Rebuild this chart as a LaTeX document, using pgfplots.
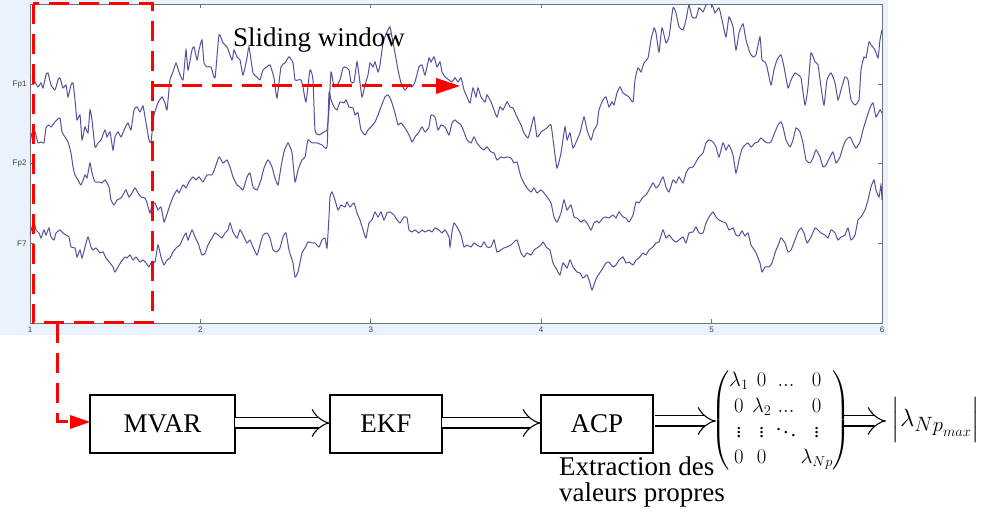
\documentclass[border=0pt]{standalone}
\usepackage{amsmath}
\usepackage{fontspec}
\setmainfont{Liberation Serif}
\newfontfamily\ticksans{Liberation Sans}
\usepackage{pgfplots}
\pgfplotsset{compat=1.18}
\usepackage{pgfplotstable}
\usetikzlibrary{arrows.meta}

\definecolor{eeg}{RGB}{82,82,158}
\definecolor{figbg}{RGB}{234,242,251}
\definecolor{wred}{RGB}{255,0,0}

% traces, in image pixels (px, py)
\pgfplotstableread{
px py
32 77
35 82
38 87
41 83
43 88
46 75
48 73
51 85
55 90
58 80
60 78
63 88
66 85
68 97
71 85
73 83
75 100
77 120
80 115
82 140
85 127
88 133
90 110
92 120
95 147
98 143
101 140
105 130
107 137
110 132
113 150
115 137
118 132
121 137
125 128
128 123
131 130
134 110
137 107
140 112
143 106
145 117
149 140
151 142
154 115
158 103
162 97
165 103
167 110
170 80
173 72
176 63
179 72
183 80
186 50
188 70
192 50
194 47
197 60
199 50
202 40
204 63
207 67
211 67
215 78
219 35
223 43
227 47
232 60
234 50
237 57
240 60
243 75
247 58
249 47
253 73
257 77
260 80
263 70
267 67
270 65
274 78
277 98
281 67
285 63
289 57
293 63
295 80
298 80
301 80
303 87
306 102
310 70
313 80
315 130
319 135
324 132
327 130
329 110
331 72
334 87
337 85
340 80
343 68
345 67
349 70
351 82
354 82
357 62
359 75
362 97
365 85
368 75
370 63
373 67
375 62
378 72
380 65
383 43
385 37
388 30
390 27
392 37
395 53
398 70
401 83
405 90
409 85
412 87
415 82
419 67
422 65
425 75
429 58
431 62
434 57
437 67
440 62
442 72
445 77
449 80
452 82
455 78
458 82
461 78
464 90
467 97
470 103
473 88
476 97
478 88
481 97
485 102
487 95
491 102
494 110
497 117
500 107
503 110
507 102
510 107
513 108
517 117
521 125
524 133
528 138
531 128
534 117
537 137
541 132
544 130
547 128
551 125
554 147
557 168
561 153
565 127
567 140
570 133
573 148
577 140
580 133
584 117
587 130
591 140
594 130
597 125
599 110
603 100
606 97
609 107
612 102
614 105
617 93
620 87
623 93
626 95
629 97
633 102
635 80
638 68
641 72
644 63
648 58
651 40
654 28
656 33
659 52
662 28
666 43
669 37
673 8
676 13
679 27
683 30
686 20
689 5
692 17
696 18
699 8
703 12
706 5
709 2
713 7
715 13
719 8
722 20
726 37
729 17
733 27
736 50
739 33
743 24
746 40
750 53
753 57
756 55
760 37
762 60
765 62
767 67
771 85
774 70
777 60
781 55
784 67
788 88
791 80
795 73
798 75
801 78
805 105
808 87
811 53
815 62
818 65
821 87
824 105
827 80
831 73
835 83
838 100
841 90
845 77
848 80
851 100
855 105
859 100
861 70
864 57
866 58
869 42
871 45
875 50
878 58
880 40
882 30
}\fpone

\pgfplotstableread{
px py
30 143
32 133
35 132
38 143
41 142
44 143
46 128
49 125
51 127
55 122
57 120
60 118
62 132
65 137
68 142
71 153
73 167
75 175
78 180
81 185
85 175
87 178
90 163
92 173
95 182
99 182
102 183
105 180
109 187
111 200
114 205
117 200
121 198
124 193
126 190
129 197
132 193
135 188
138 193
141 197
145 198
147 203
150 213
152 205
155 203
158 210
161 207
164 222
166 217
170 205
173 197
177 190
179 193
183 185
186 188
189 182
193 177
196 180
199 177
203 182
207 175
212 175
215 168
219 157
223 163
227 160
230 167
233 177
237 185
240 187
243 190
247 177
250 173
253 187
257 190
261 180
264 168
268 160
272 167
275 178
278 185
281 167
284 152
288 143
292 153
295 182
298 170
302 160
305 157
308 140
312 143
317 143
322 145
327 147
329 93
331 100
334 107
337 110
340 102
344 103
346 100
349 107
353 108
355 115
358 113
361 130
365 135
368 130
371 127
375 122
378 115
381 107
385 97
388 95
391 100
395 113
398 125
401 123
405 128
409 135
412 142
415 137
419 132
422 127
425 132
429 127
431 115
435 117
438 130
441 125
445 127
449 135
452 123
455 120
457 122
461 125
464 132
467 140
471 143
474 137
477 143
481 148
484 150
487 147
491 152
494 153
497 160
501 157
504 158
507 157
511 158
514 163
517 162
521 177
524 183
527 188
531 192
534 188
537 193
541 190
544 193
547 197
551 203
554 217
557 222
561 213
564 200
567 210
571 205
574 217
577 218
581 222
584 220
587 223
591 230
594 223
597 221
599 223
603 218
606 217
609 218
613 215
616 218
619 212
623 217
626 218
629 222
633 215
636 202
639 203
643 197
646 195
649 190
653 183
656 188
659 185
663 177
666 187
669 192
673 180
676 183
679 177
683 183
686 173
689 168
693 167
696 162
699 157
703 153
706 143
709 140
713 142
716 147
719 157
723 143
726 150
729 145
733 155
736 173
739 160
742 149
745 145
748 143
751 147
755 143
758 142
761 138
765 142
768 143
771 142
775 132
778 125
781 122
783 127
786 140
790 147
793 140
796 128
800 132
803 143
806 160
810 163
813 158
816 150
820 157
823 167
826 165
830 157
833 152
836 163
840 157
843 147
846 140
850 137
853 143
856 148
860 142
863 130
866 120
870 108
873 103
876 117
880 110
882 113
}\fptwo

\pgfplotstableread{
px py
30 235
32 227
34 222
36 230
39 233
41 238
44 230
46 235
49 228
51 237
54 240
56 233
60 230
63 233
66 235
69 237
71 247
75 248
77 257
80 250
82 258
85 247
88 237
91 247
93 250
96 248
100 253
103 252
106 258
110 263
113 267
115 272
118 267
121 262
125 257
127 258
130 255
133 260
136 257
140 262
143 260
146 263
149 267
151 263
155 262
158 245
161 257
164 265
167 260
170 258
173 252
177 247
180 245
183 238
186 233
188 240
192 230
195 237
198 243
202 255
205 253
208 245
212 238
215 233
218 235
222 238
225 233
228 230
230 223
233 232
237 238
240 230
243 235
247 243
250 240
253 247
257 255
260 245
263 235
267 233
270 238
273 250
277 252
280 248
283 237
286 233
289 250
293 263
295 277
298 272
302 253
305 248
308 242
312 243
315 243
319 247
322 240
325 238
327 248
329 217
330 197
332 192
335 200
338 210
341 205
345 207
347 202
350 207
354 203
357 213
360 220
364 233
366 238
369 223
372 220
375 212
378 217
381 212
384 220
387 213
390 212
394 215
397 220
400 223
404 217
407 218
409 230
412 232
415 230
419 233
422 230
425 232
429 230
432 232
435 228
439 230
442 233
445 230
449 237
450 247
452 232
454 223
457 227
461 235
464 247
467 245
471 247
474 243
477 245
481 247
484 242
487 247
491 247
494 240
497 252
501 250
504 248
507 247
511 245
514 242
517 240
521 253
524 257
527 253
531 255
534 250
537 248
541 245
543 242
547 248
550 250
553 263
557 270
560 275
563 263
567 268
570 260
573 267
577 272
580 273
583 278
587 275
590 283
592 290
596 279
599 274
603 268
606 263
609 262
613 267
616 265
619 260
623 257
626 263
629 262
633 265
636 260
639 258
643 253
646 255
649 250
653 247
656 243
659 242
663 230
666 238
669 235
673 240
676 242
679 240
683 237
686 243
689 233
693 232
696 227
699 233
703 233
706 223
709 217
713 212
716 217
719 220
723 222
726 223
729 230
733 228
736 235
739 236
742 231
745 236
748 233
751 245
753 248
756 253
760 263
762 272
765 267
769 267
772 263
775 253
779 243
781 238
785 243
788 252
791 250
795 240
798 232
801 228
804 233
807 243
811 237
815 228
818 230
821 233
825 235
828 238
831 230
835 233
838 240
841 237
845 235
848 228
851 240
855 235
858 220
861 217
865 210
868 200
871 187
874 180
876 190
879 197
881 185
882 200
}\fseven

\begin{document}
\begin{tikzpicture}[x=1pt,y=1pt]
\path[use as bounding box] (0,0) rectangle (989,512);
% light blue figure background
\fill[figbg] (0,177) rectangle (888,512);

\begin{axis}[
  at={(30pt,189pt)}, anchor=south west,
  width=852pt, height=318.5pt, scale only axis,
  xmin=1, xmax=6, ymin=0, ymax=4,
  xtick={1,2,3,4,5,6},
  ytick={1,2,3}, yticklabels={F7,Fp2,Fp1},
  tick align=inside, major tick length=4pt,
  axis line style={black!55, line width=0.9pt},
  tick style={black!55, line width=0.8pt},
  ticklabel style={font=\ticksans\fontsize{8}{9}\selectfont, text=black!75},
  /pgf/number format/assume math mode=true,
  axis background/.style={fill=white},
]
\addplot[eeg, line width=1pt, smooth, tension=0.3]
  table[x expr={1+(\thisrow{px}-30)/170.4}, y expr={(323-\thisrow{py})/79.6}] {\fpone};
\addplot[eeg, line width=1pt, smooth, tension=0.3]
  table[x expr={1+(\thisrow{px}-30)/170.4}, y expr={(323-\thisrow{py})/79.6}] {\fptwo};
\addplot[eeg, line width=1pt, smooth, tension=0.3]
  table[x expr={1+(\thisrow{px}-30)/170.4}, y expr={(323-\thisrow{py})/79.6}] {\fseven};
\end{axis}

% sliding window
\draw[wred, line width=3pt, dash pattern=on 20pt off 10pt] (33,508) rectangle (152,189);
\draw[wred, line width=3pt, dash pattern=on 20pt off 10pt] (152,426) -- (437,426);
\fill[wred] (436,434) -- (460,426) -- (436,418) -- cycle;
\node[anchor=base west, inner sep=0] at (233,465) {\fontsize{27}{30}\selectfont Sliding window};

\draw[wred, line width=3pt, dash pattern=on 20pt off 10pt] (57,189) -- (57,90) -- (72,90);
\fill[wred] (70,97) -- (90,90) -- (70,83) -- cycle;

% processing chain
\draw[line width=1.2pt] (90,117) rectangle (235,59);
\node at (162.5,88) {\fontsize{27}{30}\selectfont MVAR};
\draw[line width=1.2pt] (330,117) rectangle (442,59);
\node at (386,88) {\fontsize{27}{30}\selectfont EKF};
\draw[line width=1.2pt] (541,117) rectangle (653,59);
\node at (597,88) {\fontsize{27}{30}\selectfont ACP};

\draw[double, double distance=9pt, line width=1.1pt, -{Implies}] (235,89) -- (330,89);
\draw[double, double distance=9pt, line width=1.1pt, -{Implies}] (442,89) -- (541,89);
\draw[double, double distance=9pt, line width=1.1pt, -{Implies}] (655,91) -- (716,91);
\draw[double, double distance=9pt, line width=1.1pt, -{Implies}] (843,91) -- (886,91);

\node[inner sep=0] at (781,92) {\fontsize{20.5}{25.5}\selectfont
  $\left(\begin{array}{@{}c@{\,}c@{\,}c@{\,}c@{}}
  \lambda_1 & 0 & ... & 0\\
  0 & \lambda_2 & ... & 0\\
  \vdots & \vdots & \ddots & \vdots\\
  0 & 0 & & \lambda_{Np}
  \end{array}\right)$};
\node[inner sep=0] at (936,92) {\fontsize{30}{32}\selectfont $\left|\lambda_{{Np}_{max}}\right|$};

\node[anchor=base west, inner sep=0] at (559,37) {\fontsize{27}{30}\selectfont Extraction des};
\node[anchor=base west, inner sep=0] at (559,10) {\fontsize{27}{30}\selectfont valeurs propres};
\end{tikzpicture}
\end{document}
